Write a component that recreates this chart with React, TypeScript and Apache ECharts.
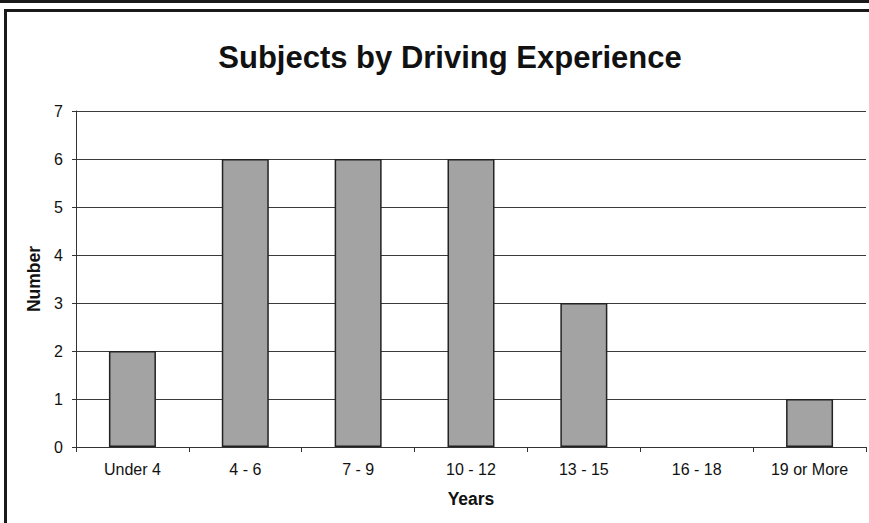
import React, { useEffect, useRef } from "react";
import * as echarts from "echarts";

const categories = ["Under 4", "4 - 6", "7 - 9", "10 - 12", "13 - 15", "16 - 18", "19 or More"];
const counts = [2, 6, 6, 6, 3, 0, 1];
const yTicks = { min: 0, max: 7, interval: 1 };

export default function App() {
  const ref = useRef<HTMLDivElement>(null);
  useEffect(() => {
    if (!ref.current) return;
    const chart = echarts.init(ref.current, null, { renderer: "svg" });
    const font = "Arial, 'Liberation Sans', sans-serif";
    chart.setOption({
      animation: false,
      backgroundColor: "#ffffff",
      title: {
        text: "Subjects by Driving Experience",
        left: 445,
        textAlign: "center",
        top: 37,
        textStyle: { fontFamily: font, fontSize: 31, fontWeight: "bold", color: "#111" },
      },
      graphic: [
        { type: "rect", shape: { x: 0, y: 0, width: 869, height: 3 }, style: { fill: "#1a1a1a" } },
        {
          type: "rect",
          shape: { x: 5.5, y: 10.5, width: 900, height: 600 },
          style: { fill: "none", stroke: "#1a1a1a", lineWidth: 3 },
        },
      ],
      grid: { left: 76, right: 3, top: 111, bottom: 76 },
      xAxis: {
        type: "category",
        data: categories,
        name: "Years",
        nameLocation: "middle",
        nameGap: 43,
        nameTextStyle: { fontFamily: font, fontSize: 17.5, fontWeight: "bold", color: "#111" },
        axisLine: { lineStyle: { color: "#333", width: 1 } },
        axisTick: { show: true, length: 5, lineStyle: { color: "#333" } },
        axisLabel: { fontFamily: font, fontSize: 16, color: "#111", margin: 14, interval: 0 },
      },
      yAxis: {
        type: "value",
        min: yTicks.min,
        max: yTicks.max,
        interval: yTicks.interval,
        name: "Number",
        nameLocation: "middle",
        nameRotate: 90,
        nameGap: 31,
        nameTextStyle: { fontFamily: font, fontSize: 17.5, fontWeight: "bold", color: "#111" },
        axisLine: { show: true, lineStyle: { color: "#333", width: 1 } },
        axisTick: { show: true, length: 4, lineStyle: { color: "#333" } },
        axisLabel: { fontFamily: font, fontSize: 16, color: "#111", margin: 13 },
        splitLine: { show: true, lineStyle: { color: "#3a3a3a", width: 1 } },
      },
      series: [
        {
          type: "bar",
          data: counts.map((v) => (v === 0 ? null : v)),
          barWidth: 47,
          itemStyle: { color: "#a3a3a3", borderColor: "#222", borderWidth: 1.5 },
        },
      ],
    });
    return () => chart.dispose();
  }, []);
  return (
    <div
      ref={ref}
      style={{ position: "absolute", left: 0, top: 0, width: 869, height: 523 }}
    />
  );
}
